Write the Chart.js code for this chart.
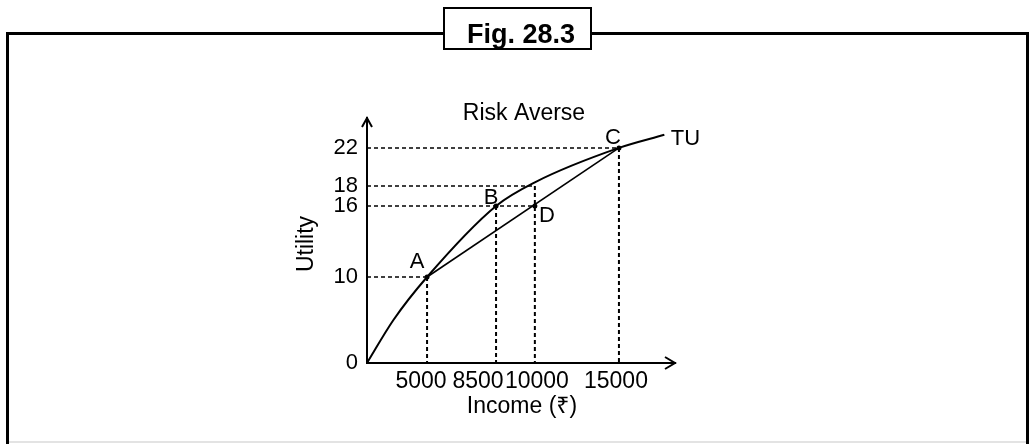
<!DOCTYPE html>
<html><head><meta charset="utf-8">
<script src="https://cdn.jsdelivr.net/npm/chart.js@4.4.1/dist/chart.umd.min.js"></script>
<style>html,body{margin:0;padding:0;background:#fff;}#wrap{width:1029px;height:444px;position:relative}</style>
</head><body><div id="wrap"><canvas id="c" width="1029" height="444"></canvas></div>
<script>
// ---- data ----
const incomeTicks = [5000, 8500, 10000, 15000];
const incomeTickLabels = ['5000', '8500', '10000', '15000'];
const utilityTicks = [0, 10, 16, 18, 22];
const tuIncome = [0, 2200, 5000, 8500, 10000, 15000, 17700];
const tuUtility = [0, 5, 10, 16, 18.4, 22, 23.4];
const pointNames = ['A', 'B', 'C', 'D'];
const pointIncome = [5000, 8500, 15000, 10000];
const pointUtility = [10, 16, 22, 16];
const chordIncome = [5000, 15000];
const chordUtility = [10, 22];
const hGuideUtility = [22, 18, 16, 10];
const hGuideIncome = [15000, 10000, 10000, 5000];
const vGuideIncome = [5000, 8500, 10000, 15000];
const vGuideUtility = [10, 16, 18, 22];

// ---- schematic (non-uniform) axis mapping: value -> fraction of axis ----
const scaleBreaks = {
  x: [[0, 0], [5000, 0.195], [8500, 0.419], [10000, 0.545], [15000, 0.818], [18333, 1]],
  y: [[0, 0], [10, 0.351], [16, 0.641], [18, 0.722], [22, 0.878], [25.2, 1]]
};
function mapFwd(bp, v) {
  for (let i = 1; i < bp.length; i++) {
    if (v <= bp[i][0] || i === bp.length - 1) {
      const [v0, d0] = bp[i - 1], [v1, d1] = bp[i];
      return d0 + (v - v0) * (d1 - d0) / (v1 - v0);
    }
  }
}
function mapInv(bp, d) {
  for (let i = 1; i < bp.length; i++) {
    if (d <= bp[i][1] || i === bp.length - 1) {
      const [v0, d0] = bp[i - 1], [v1, d1] = bp[i];
      return v0 + (d - d0) * (v1 - v0) / (d1 - d0);
    }
  }
}
class PiecewiseScale extends Chart.LinearScale {
  getPixelForValue(value) {
    if (value === undefined || value === null || isNaN(value)) return NaN;
    return this.getPixelForDecimal(mapFwd(scaleBreaks[this.id], value));
  }
  getValueForPixel(pixel) {
    return mapInv(scaleBreaks[this.id], this.getDecimalForPixel(pixel));
  }
}
PiecewiseScale.id = 'piecewise';
PiecewiseScale.defaults = {};
Chart.register(PiecewiseScale);

const FONT = '"Liberation Sans", Arial, "Noto Sans", "DejaVu Sans", sans-serif';
const pts = (xs, ys) => xs.map((x, i) => ({ x: x, y: ys[i] }));

const datasets = [];
datasets.push({ data: pts(tuIncome, tuUtility), borderColor: '#000', borderWidth: 2, pointRadius: 0, cubicInterpolationMode: 'monotone', fill: false });
datasets.push({ data: pts(chordIncome, chordUtility), borderColor: '#000', borderWidth: 1.6, pointRadius: 0, tension: 0, fill: false });
hGuideUtility.forEach((u, i) => {
  datasets.push({ data: [{ x: 0, y: u }, { x: hGuideIncome[i], y: u }], borderColor: '#000', borderWidth: 1.5, borderDash: [4, 3], pointRadius: 0, tension: 0, fill: false });
});
vGuideIncome.forEach((inc, i) => {
  datasets.push({ data: [{ x: inc, y: vGuideUtility[i] }, { x: inc, y: 0 }], borderColor: '#000', borderWidth: 2, borderDash: [4, 3], pointRadius: 0, tension: 0, fill: false });
});
datasets.push({ data: pts(pointIncome, pointUtility), showLine: false, pointRadius: 2.5, pointBackgroundColor: '#000', pointBorderWidth: 0, borderColor: '#000' });

const decor = {
  id: 'decor',
  beforeDraw(chart) {
    const ctx = chart.ctx;
    ctx.save();
    ctx.fillStyle = '#fff';
    ctx.fillRect(0, 0, chart.width, chart.height);
    // frame
    ctx.strokeStyle = '#000';
    ctx.lineWidth = 3;
    ctx.beginPath();
    ctx.moveTo(7.5, 444); ctx.lineTo(7.5, 33.5); ctx.lineTo(1027.5, 33.5); ctx.lineTo(1027.5, 444);
    ctx.stroke();
    ctx.strokeStyle = '#e3e3e3';
    ctx.lineWidth = 2;
    ctx.beginPath(); ctx.moveTo(9, 442); ctx.lineTo(1026, 442); ctx.stroke();
    // title box
    ctx.fillStyle = '#fff';
    ctx.fillRect(443, 7, 149, 42);
    ctx.strokeStyle = '#000';
    ctx.lineWidth = 2;
    ctx.strokeRect(444, 8, 147, 41);
    ctx.fillStyle = '#000';
    ctx.font = 'bold 27px ' + FONT;
    ctx.textAlign = 'center';
    ctx.textBaseline = 'alphabetic';
    ctx.fillText('Fig. 28.3', 521, 42.5);
    ctx.restore();
  },
  afterDraw(chart) {
    const ctx = chart.ctx, xs = chart.scales.x, ys = chart.scales.y;
    const ox = xs.left, oy = ys.bottom;
    ctx.save();
    ctx.strokeStyle = '#000';
    ctx.fillStyle = '#000';
    ctx.lineWidth = 2;
    // arrowheads
    ctx.beginPath();
    ctx.moveTo(ox - 5, ys.top + 9); ctx.lineTo(ox, ys.top); ctx.lineTo(ox + 5, ys.top + 9);
    ctx.moveTo(xs.right - 10, oy - 6); ctx.lineTo(xs.right, oy); ctx.lineTo(xs.right - 10, oy + 6);
    ctx.stroke();
    // x tick labels
    const tickShift = [-6, -18, 2, -3];
    ctx.font = '23px ' + FONT;
    ctx.textAlign = 'center';
    ctx.textBaseline = 'middle';
    incomeTicks.forEach((v, i) => {
      ctx.fillText(incomeTickLabels[i], xs.getPixelForValue(v) + tickShift[i], oy + 19);
    });
    // point labels
    const ldx = [-10, -5, -6, 12], ldy = [-15, -8, -10, 10];
    ctx.font = '22px ' + FONT;
    pointNames.forEach((n, i) => {
      ctx.fillText(n, xs.getPixelForValue(pointIncome[i]) + ldx[i], ys.getPixelForValue(pointUtility[i]) + ldy[i]);
    });
    const last = tuIncome.length - 1;
    ctx.fillText('TU', xs.getPixelForValue(tuIncome[last]) + 21, ys.getPixelForValue(tuUtility[last]) + 4);
    // titles
    ctx.font = '23px ' + FONT;
    ctx.fillText('Risk Averse', 524, 114);
    ctx.fillText('Income (\u20B9)', 522, 407);
    ctx.translate(307, 244);
    ctx.rotate(-Math.PI / 2);
    ctx.fillText('Utility', 0, 0);
    ctx.restore();
  }
};

new Chart(document.getElementById('c'), {
  type: 'line',
  data: { datasets: datasets },
  plugins: [decor],
  options: {
    responsive: false,
    devicePixelRatio: 1,
    animation: false,
    layout: { padding: { left: 307, right: 354, top: 118, bottom: 81 } },
    plugins: { legend: { display: false }, tooltip: { enabled: false }, title: { display: false } },
    scales: {
      x: {
        type: 'piecewise', min: 0, max: 18333,
        grid: { display: false, drawTicks: false },
        border: { display: true, color: '#000', width: 2 },
        ticks: { display: false },
        afterBuildTicks: s => { s.ticks = incomeTicks.map(v => ({ value: v })); },
        afterFit: s => { s.height = 0; }
      },
      y: {
        type: 'piecewise', min: 0, max: 25.2,
        grid: { display: false, drawTicks: false },
        border: { display: true, color: '#000', width: 2 },
        ticks: { display: true, autoSkip: false, padding: 9, color: '#000', font: { family: FONT, size: 22 }, callback: v => String(v) },
        afterBuildTicks: s => { s.ticks = utilityTicks.map(v => ({ value: v })); },
        afterFit: s => { s.width = 60; }
      }
    }
  }
});
</script></body></html>
